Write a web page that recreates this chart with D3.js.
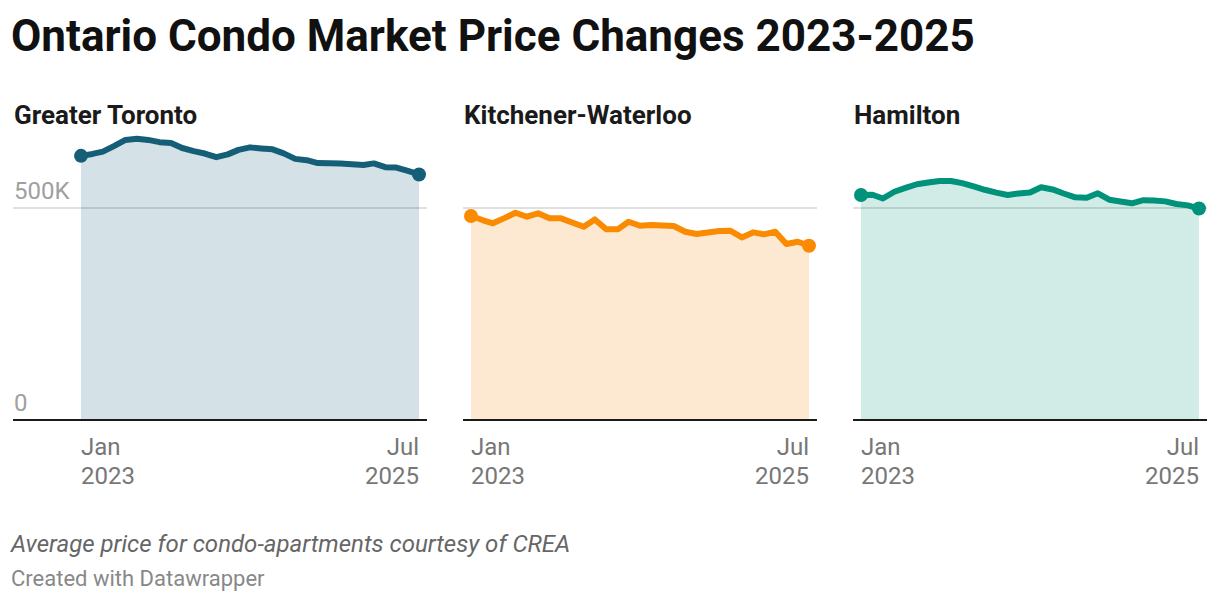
<!DOCTYPE html>
<html>
<head>
<meta charset="utf-8">
<script src="https://cdn.jsdelivr.net/npm/d3@7"></script>
<style>
  html, body { margin: 0; padding: 0; background: #fff; }
  svg { display: block; font-family: Roboto, "Noto Sans", sans-serif; }
</style>
</head>
<body>
<svg id="chart" width="1220" height="604"></svg>
<script>
// ---- Data (average price, thousands of dollars), monthly Jan 2023 .. Jul 2025 ----
const months = [
  "2023-01","2023-02","2023-03","2023-04","2023-05","2023-06","2023-07","2023-08","2023-09","2023-10","2023-11","2023-12",
  "2024-01","2024-02","2024-03","2024-04","2024-05","2024-06","2024-07","2024-08","2024-09","2024-10","2024-11","2024-12",
  "2025-01","2025-02","2025-03","2025-04","2025-05","2025-06","2025-07"
];
const toronto = [621.5,626,631.6,645,659,661.6,659,653.8,652,640,632.5,627,618.4,625,635.6,641.5,639,636.8,627.4,614.4,611.3,604.5,604,603.3,601.7,600.2,603.8,594.8,593.9,586,577.8];
const kitchener = [480,470.5,462.7,475,487.7,478.3,486.3,474.5,474.5,464.6,454.7,472,448.6,448.6,466.5,457,458.7,457.5,456.4,443,437.5,441,444.6,445.3,429.7,441.5,436.8,443,414,419.3,409.9];
const hamilton = [529.5,530,521.2,537,546,554.7,559,562.5,562.5,557.3,549.5,541.7,535,529.5,533,535.4,547.6,542.5,533,524,523,533.5,518.4,514,509.9,517.2,516.5,514.4,508.3,505,497.6];
const regionNames = ["Greater Toronto","Kitchener-Waterloo","Hamilton"];
const yTicks = [0, 500];
const yTickLabels = ["0","500K"];
const xTickTop = ["Jan","Jul"];
const xTickBottom = ["2023","2025"];

// ---- Styling / layout ----
const lineColors = ["#155e78","#fa8a00","#00927a"];
const areaColors = ["#d4e1e7","#fde9d1","#d1ece6"];
const panels = [
  {gx0: 13,  gx1: 427, ax0: 81,  ax1: 419, tx: 14},
  {gx0: 463, gx1: 817, ax0: 471, ax1: 809, tx: 464},
  {gx0: 853, gx1: 1207, ax0: 861, ax1: 1199, tx: 854}
];
const seriesList = [toronto, kitchener, hamilton];

const svg = d3.select("#chart");
const parse = d3.timeParse("%Y-%m");
const dates = months.map(parse);

const y = d3.scaleLinear().domain([0, 500]).range([420, 207.5]);

// Title
svg.append("text")
  .attr("x", 11).attr("y", 51)
  .attr("font-size", 44).attr("font-weight", 700).attr("fill", "#111")
  .text("Ontario Condo Market Price Changes 2023-2025");

panels.forEach((p, k) => {
  const g = svg.append("g");
  const x = d3.scaleTime().domain([dates[0], dates[dates.length - 1]]).range([p.ax0, p.ax1]);
  const data = dates.map((d, i) => ({date: d, value: seriesList[k][i]}));

  // panel title
  g.append("text")
    .attr("x", p.tx).attr("y", 124)
    .attr("font-size", 26).attr("font-weight", 700).attr("fill", "#1a1a1a")
    .text(regionNames[k]);

  // area
  const area = d3.area().x(d => x(d.date)).y0(y(0)).y1(d => y(d.value));
  g.append("path").datum(data).attr("d", area).attr("fill", areaColors[k]);

  // gridline 500K
  const yAxis = d3.axisLeft(y).tickValues([500]).tickSize(-(p.gx1 - p.gx0)).tickFormat("");
  const ga = g.append("g").attr("transform", `translate(${p.gx0},0)`).call(yAxis);
  ga.select(".domain").remove();
  ga.selectAll(".tick line").attr("stroke", "#000").attr("stroke-opacity", 0.12).attr("stroke-width", 2);

  // y tick labels (first panel only)
  if (k === 0) {
    yTicks.forEach((t, i) => {
      g.append("text")
        .attr("x", p.gx0 + 1).attr("y", y(t) - 9)
        .attr("font-size", 24).attr("fill", "#a0a0a0")
        .text(yTickLabels[i]);
    });
  }

  // line
  const line = d3.line().x(d => x(d.date)).y(d => y(d.value));
  g.append("path").datum(data).attr("d", line)
    .attr("fill", "none").attr("stroke", lineColors[k])
    .attr("stroke-width", 6).attr("stroke-linejoin", "round").attr("stroke-linecap", "round");

  // end dots
  [data[0], data[data.length - 1]].forEach(d => {
    g.append("circle").attr("cx", x(d.date)).attr("cy", y(d.value)).attr("r", 7).attr("fill", lineColors[k]);
  });

  // baseline axis
  g.append("line")
    .attr("x1", p.gx0).attr("x2", p.gx1).attr("y1", y(0)).attr("y2", y(0))
    .attr("stroke", "#1a1a1a").attr("stroke-width", 2.2);

  // x ticks
  const xt = [dates[0], dates[dates.length - 1]];
  xt.forEach((d, i) => {
    const anchor = i === 0 ? "start" : "end";
    g.append("text").attr("x", x(d)).attr("y", 455).attr("text-anchor", anchor)
      .attr("font-size", 24).attr("fill", "#777").text(xTickTop[i]);
    g.append("text").attr("x", x(d)).attr("y", 484).attr("text-anchor", anchor)
      .attr("font-size", 24).attr("fill", "#777").text(xTickBottom[i]);
  });
});

// Footer
svg.append("text")
  .attr("x", 11).attr("y", 552)
  .attr("font-size", 24).attr("font-style", "italic").attr("fill", "#666")
  .text("Average price for condo-apartments courtesy of CREA");
svg.append("text")
  .attr("x", 11).attr("y", 586)
  .attr("font-size", 22).attr("fill", "#888")
  .text("Created with Datawrapper");
</script>
</body>
</html>
